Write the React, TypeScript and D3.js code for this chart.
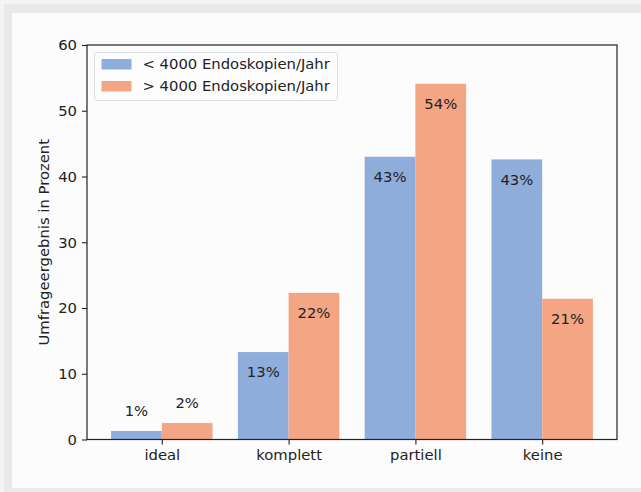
import * as d3 from "d3";
import { useEffect, useRef } from "react";

const categories = ["ideal", "komplett", "partiell", "keine"];
const seriesNames = ["< 4000 Endoskopien/Jahr", "> 4000 Endoskopien/Jahr"];
const small = [1.3, 13.3, 43.0, 42.6];
const large = [2.5, 22.3, 54.1, 21.4];
const smallLabels = ["1%", "13%", "43%", "43%"];
const largeLabels = ["2%", "22%", "54%", "21%"];
const yTicks = [0, 10, 20, 30, 40, 50, 60];

const colors = ["#8fadda", "#f4a583"];
const FONT = "DejaVu Sans, sans-serif";
const FS = 14.8;

export default function App() {
    const ref = useRef<SVGSVGElement | null>(null);

    useEffect(() => {
        const width = 641;
        const height = 492;
        const margin = { top: 45, right: 24, bottom: 52.5, left: 87 };

        const svg = d3.select(ref.current);
        svg.selectAll("*").remove();

        // frame like the scanned figure
        svg.append("rect").attr("width", width).attr("height", height).attr("fill", "#f4f4f5");
        svg.append("rect").attr("x", 4).attr("y", 4).attr("width", width - 4).attr("height", height - 4).attr("fill", "#e8e9eb");
        svg.append("rect").attr("x", 12).attr("y", 13).attr("width", width - 12).attr("height", 475).attr("fill", "#fcfcfd");

        const x = d3.scaleLinear([-0.59, 3.59], [margin.left, width - margin.right]);
        const y = d3.scaleLinear([0, 60], [height - margin.bottom, margin.top]);
        const bw = 0.4;

        const series = [
            { values: small, labels: smallLabels, offset: -bw / 2 },
            { values: large, labels: largeLabels, offset: bw / 2 },
        ];

        series.forEach((s, si) => {
            const g = svg.append("g");
            g.selectAll("rect")
                .data(s.values)
                .join("rect")
                .attr("x", (_, i) => x(i + s.offset - bw / 2))
                .attr("y", (d) => y(d))
                .attr("width", x(bw) - x(0))
                .attr("height", (d) => y(0) - y(d))
                .attr("fill", colors[si]);
            g.selectAll("text")
                .data(s.values)
                .join("text")
                .attr("x", (_, i) => x(i + s.offset))
                .attr("y", (d) => (d < 5 ? y(d) - 20 : y(d) + 20))
                .attr("dy", "0.35em")
                .attr("text-anchor", "middle")
                .attr("font-family", FONT)
                .attr("font-size", FS)
                .attr("fill", "#222")
                .text((_, i) => s.labels[i]);
        });

        const yAxis = d3.axisLeft(y).tickValues(yTicks).tickSize(5).tickPadding(5);
        const gy = svg.append("g")
            .attr("transform", `translate(${margin.left},0)`)
            .call(yAxis);
        const xAxis = d3.axisBottom(x)
            .tickValues(categories.map((_, i) => i))
            .tickFormat((d) => categories[d as number])
            .tickSize(5)
            .tickPadding(5);
        const gx = svg.append("g")
            .attr("transform", `translate(0,${height - margin.bottom})`)
            .call(xAxis);
        [gx, gy].forEach((g) => {
            g.select(".domain").remove();
            g.selectAll("line").attr("stroke", "#222").attr("stroke-width", 1.1);
            g.selectAll("text")
                .attr("font-family", FONT)
                .attr("font-size", FS)
                .attr("fill", "#222");
        });

        // spines
        svg.append("rect")
            .attr("x", margin.left)
            .attr("y", margin.top)
            .attr("width", width - margin.right - margin.left)
            .attr("height", height - margin.bottom - margin.top)
            .attr("fill", "none")
            .attr("stroke", "#222")
            .attr("stroke-width", 1.2);

        svg.append("text")
            .attr("transform", "rotate(-90)")
            .attr("x", -(margin.top + height - margin.bottom) / 2)
            .attr("y", 44)
            .attr("dy", "0.35em")
            .attr("text-anchor", "middle")
            .attr("font-family", FONT)
            .attr("font-size", FS)
            .attr("fill", "#222")
            .text("Umfrageergebnis in Prozent");

        // legend
        const lg = svg.append("g").attr("transform", `translate(${margin.left + 7.5},${margin.top + 7.5})`);
        lg.append("rect")
            .attr("width", 243)
            .attr("height", 48)
            .attr("rx", 3)
            .attr("fill", "#fcfcfd")
            .attr("fill-opacity", 0.8)
            .attr("stroke", "#d8dde3");
        seriesNames.forEach((name, i) => {
            lg.append("rect")
                .attr("x", 7)
                .attr("y", 6.5 + i * 22)
                .attr("width", 30)
                .attr("height", 10.5)
                .attr("fill", colors[i]);
            lg.append("text")
                .attr("x", 48)
                .attr("y", 11.5 + i * 22)
                .attr("dy", "0.35em")
                .attr("font-family", FONT)
                .attr("font-size", FS)
                .attr("fill", "#222")
                .text(name);
        });
    }, []);

    return (
        <svg
            ref={ref}
            width={641}
            height={492}
            style={{ position: "absolute", left: 0, top: 0 }}
        />
    );
}
